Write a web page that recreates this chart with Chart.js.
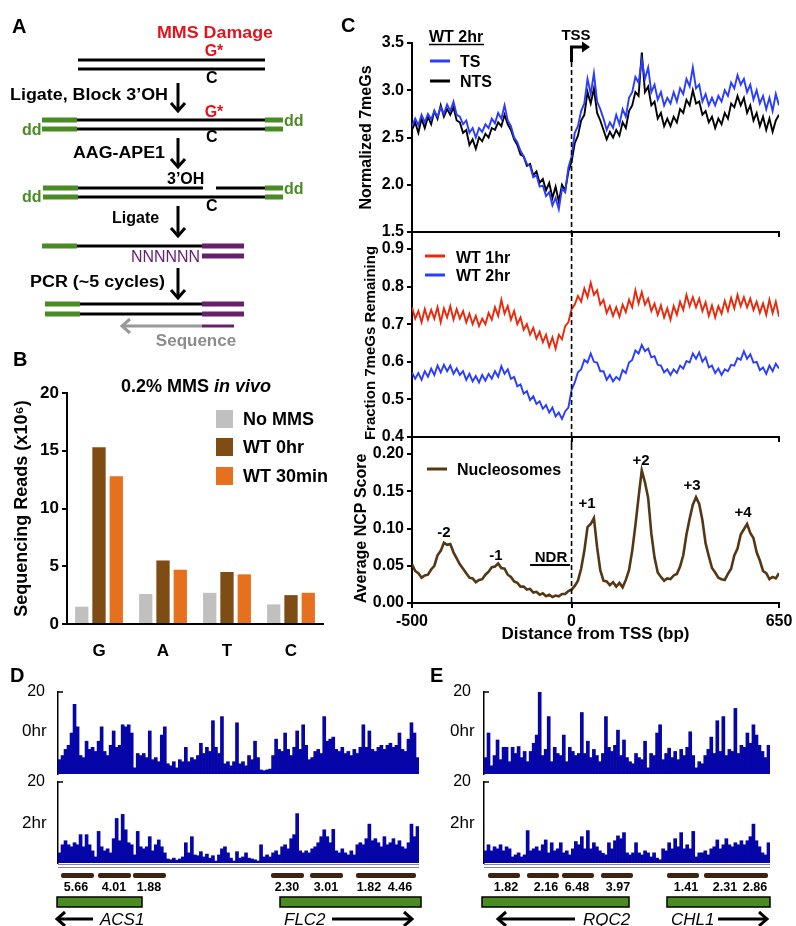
<!DOCTYPE html>
<html><head><meta charset="utf-8">
<script src="https://cdn.jsdelivr.net/npm/chart.js@4.4.1/dist/chart.umd.min.js"></script>
<style>
body{margin:0;background:#fff;}
#page{position:relative;width:796px;height:926px;overflow:hidden;background:#fff;}
canvas{position:absolute;}
#ov{position:absolute;left:0;top:0;pointer-events:none;z-index:5;}
</style></head>
<body><div id="page">
<canvas id="cB"></canvas>
<canvas id="cTop"></canvas>
<canvas id="cMid"></canvas>
<canvas id="cBot"></canvas>
<canvas id="cD0"></canvas>
<canvas id="cD2"></canvas>
<canvas id="cE0"></canvas>
<canvas id="cE2"></canvas>
<svg id="ov" width="796" height="926" font-family="'Liberation Sans', Arial, sans-serif" font-weight="bold">
<!-- panel letters -->
<text x="12" y="33" font-size="20">A</text>
<text x="13" y="366" font-size="20">B</text>
<text x="341" y="32" font-size="20">C</text>
<text x="10" y="682" font-size="20">D</text>
<text x="430" y="682" font-size="20">E</text>

<!-- Panel A schematic -->
<g fill="#e0141e">
<text x="215" y="38" font-size="17" text-anchor="middle" textLength="116" lengthAdjust="spacingAndGlyphs">MMS Damage</text>
<text x="214" y="56" font-size="16" text-anchor="middle">G*</text>
<text x="214" y="117" font-size="16" text-anchor="middle">G*</text>
</g>
<g font-size="16">
<text x="206" y="83">C</text>
<text x="206" y="142">C</text>
<text x="206" y="211">C</text>
<text x="10" y="100" textLength="158" lengthAdjust="spacingAndGlyphs">Ligate, Block 3’OH</text>
<text x="73" y="158" textLength="92" lengthAdjust="spacingAndGlyphs">AAG-APE1</text>
<text x="167" y="184">3’OH</text>
<text x="112" y="223">Ligate</text>
<text x="30" y="287" textLength="135" lengthAdjust="spacingAndGlyphs">PCR (~5 cycles)</text>
</g>
<g fill="#4a8c24" font-size="16">
<text x="22" y="135">dd</text>
<text x="284" y="126">dd</text>
<text x="22" y="202">dd</text>
<text x="284" y="194">dd</text>
</g>
<text x="131" y="262" font-size="16" font-weight="normal" fill="#66206e" textLength="69" lengthAdjust="spacingAndGlyphs">NNNNNN</text>
<text x="196" y="346" font-size="17" fill="#8c8c8c" text-anchor="middle">Sequence</text>
<g stroke="#000" stroke-width="3">
<line x1="78" y1="60" x2="265" y2="60"/><line x1="78" y1="69" x2="265" y2="69"/>
<line x1="77" y1="120" x2="265" y2="120"/><line x1="77" y1="129" x2="265" y2="129"/>
<line x1="78" y1="188" x2="203" y2="188"/><line x1="216" y1="188" x2="265" y2="188"/>
<line x1="78" y1="197" x2="265" y2="197"/>
<line x1="77" y1="246" x2="202" y2="246"/>
<line x1="80" y1="304" x2="202" y2="304"/><line x1="80" y1="314" x2="202" y2="314"/>
</g>
<g stroke="#4a8c24" stroke-width="5">
<line x1="42" y1="120" x2="77" y2="120"/><line x1="42" y1="129" x2="77" y2="129"/>
<line x1="265" y1="120" x2="283" y2="120"/><line x1="265" y1="129" x2="283" y2="129"/>
<line x1="43" y1="188" x2="78" y2="188"/><line x1="43" y1="197" x2="78" y2="197"/>
<line x1="265" y1="188" x2="283" y2="188"/><line x1="265" y1="197" x2="283" y2="197"/>
<line x1="42" y1="246" x2="77" y2="246"/>
<line x1="45" y1="304" x2="80" y2="304"/><line x1="45" y1="314" x2="80" y2="314"/>
</g>
<g stroke="#66206e" stroke-width="5">
<line x1="202" y1="246" x2="244" y2="246"/><line x1="202" y1="256" x2="244" y2="256"/>
<line x1="202" y1="304" x2="244" y2="304"/><line x1="202" y1="314" x2="244" y2="314"/>
<line x1="202" y1="326" x2="234" y2="326" stroke-width="3"/>
</g>
<g stroke="#999" stroke-width="3" fill="none">
<line x1="122" y1="326" x2="202" y2="326"/><polyline points="130,319 122,326 130,333"/>
</g>
<g stroke="#000" stroke-width="3" fill="none">
<line x1="178" y1="83" x2="178" y2="110"/><polyline points="171,103 178,111 185,103"/>
<line x1="178" y1="138" x2="178" y2="166"/><polyline points="171,159 178,167 185,159"/>
<line x1="178" y1="206" x2="178" y2="235"/><polyline points="171,228 178,236 185,228"/>
<line x1="178" y1="268" x2="178" y2="297"/><polyline points="171,290 178,298 185,290"/>
</g>

<!-- Panel B title + legend -->
<text x="196" y="392" font-size="18" text-anchor="middle">0.2% MMS <tspan font-style="italic">in vivo</tspan></text>
<rect x="216" y="410" width="17" height="18" fill="#c0c0c0"/>
<rect x="216" y="438" width="17" height="18" fill="#7f4c14"/>
<rect x="216" y="467" width="17" height="18" fill="#e6701e"/>
<g font-size="18">
<text x="243" y="425">No MMS</text>
<text x="243" y="453">WT 0hr</text>
<text x="243" y="482">WT 30min</text>
</g>

<!-- Panel C: shared y-axis line through gaps -->
<g stroke="#000" stroke-width="2">
<line x1="412" y1="231" x2="412" y2="250"/>
<line x1="412" y1="436" x2="412" y2="455"/>
</g>
<!-- Panel C legends and labels -->
<g font-size="16">
<text x="429" y="42">WT 2hr</text>
<line x1="429" y1="44.5" x2="484" y2="44.5" stroke="#000" stroke-width="1.5"/>
<line x1="430" y1="61" x2="450" y2="61" stroke="#2a3cff" stroke-width="3"/>
<text x="460" y="67">TS</text>
<line x1="430" y1="81" x2="450" y2="81" stroke="#000" stroke-width="3"/>
<text x="460" y="87">NTS</text>
<line x1="425" y1="256" x2="445" y2="256" stroke="#e8290b" stroke-width="3"/>
<text x="456" y="263">WT 1hr</text>
<line x1="425" y1="275" x2="445" y2="275" stroke="#2a3cff" stroke-width="3"/>
<text x="456" y="281">WT 2hr</text>
<line x1="427" y1="469" x2="447" y2="469" stroke="#553714" stroke-width="3"/>
<text x="457" y="475">Nucleosomes</text>
</g>
<text x="576" y="40" font-size="15" text-anchor="middle">TSS</text>
<polyline points="571.5,62 571.5,47 583,47" stroke="#000" stroke-width="3" fill="none"/>
<polygon points="582,41.5 590,47 582,52.5" fill="#000"/>
<g font-size="15" text-anchor="middle">
<text x="444" y="537">-2</text>
<text x="496" y="560">-1</text>
<text x="551" y="562">NDR</text>
<text x="587" y="508">+1</text>
<text x="641" y="465">+2</text>
<text x="692" y="490">+3</text>
<text x="743" y="517">+4</text>
</g>

<!-- Panels D/E labels -->
<g font-size="17" font-weight="normal">
<text x="22" y="736">0hr</text>
<text x="22" y="828">2hr</text>
<text x="450" y="736">0hr</text>
<text x="450" y="828">2hr</text>
</g>
<g stroke="#888" stroke-width="1.2">
<line x1="58" y1="864.5" x2="419" y2="864.5"/><line x1="58" y1="867.5" x2="419" y2="867.5"/>
<line x1="484" y1="864.5" x2="770" y2="864.5"/><line x1="484" y1="867.5" x2="770" y2="867.5"/>
</g>
<g fill="#3d2410">
<rect x="61" y="873" width="33" height="5" rx="2"/><rect x="98" y="873" width="33" height="5" rx="2"/><rect x="133" y="873" width="33" height="5" rx="2"/>
<rect x="271" y="873" width="33" height="5" rx="2"/><rect x="310" y="873" width="33" height="5" rx="2"/><rect x="356" y="873" width="60" height="5" rx="2"/>
<rect x="488" y="873" width="32" height="5" rx="2"/><rect x="527" y="873" width="32" height="5" rx="2"/><rect x="562" y="873" width="32" height="5" rx="2"/><rect x="601" y="873" width="32" height="5" rx="2"/>
<rect x="667" y="873" width="32" height="5" rx="2"/><rect x="704" y="873" width="64" height="5" rx="2"/>
</g>
<g font-size="12.5" text-anchor="middle">
<text x="76" y="891">5.66</text><text x="114" y="891">4.01</text><text x="149" y="891">1.88</text>
<text x="287" y="891">2.30</text><text x="326" y="891">3.01</text><text x="369" y="891">1.82</text><text x="400" y="891">4.46</text>
<text x="506" y="891">1.82</text><text x="546" y="891">2.16</text><text x="577" y="891">6.48</text><text x="618" y="891">3.97</text>
<text x="686" y="891">1.41</text><text x="725" y="891">2.31</text><text x="755" y="891">2.86</text>
</g>
<g fill="#4b8c22" stroke="#000" stroke-width="1.5">
<rect x="57" y="897" width="85" height="10"/><rect x="280" y="897" width="141" height="10"/>
<rect x="482" y="897" width="147" height="10"/><rect x="667" y="897" width="103" height="10"/>
</g>
<g font-size="17" font-weight="normal" font-style="italic">
<text x="100" y="925">ACS1</text><text x="284" y="925">FLC2</text>
<text x="583" y="925">RQC2</text><text x="671" y="925">CHL1</text>
</g>
<g stroke="#000" stroke-width="3" fill="none">
<line x1="57" y1="919" x2="93" y2="919"/><polyline points="65,912 57,919 65,926"/>
<line x1="332" y1="919" x2="412" y2="919"/><polyline points="404,912 412,919 404,926"/>
<line x1="498" y1="919" x2="575" y2="919"/><polyline points="506,912 498,919 506,926"/>
<line x1="718" y1="919" x2="767" y2="919"/><polyline points="759,912 767,919 759,926"/>
</g>
</svg>
</div>
<script>
// ---------- DATA ----------
// Panel B
const baseCats = ['G','A','T','C'];
const noMMS  = [1.5, 2.6, 2.7, 1.7];
const wt0hr  = [15.3, 5.5, 4.5, 2.5];
const wt30min= [12.8, 4.7, 4.3, 2.7];
const bTicks = [0,5,10,15,20];

// Panel C (sampled every 10 bp from -500 to 650)
const bp = Array.from({length:116}, (_, i) => -500 + i*10);
const cTicks = [-500, 0, 650];
const tsVals = [2.62,2.70,2.63,2.74,2.66,2.75,2.69,2.78,2.72,2.82,
 2.75,2.85,2.78,2.88,2.74,2.72,2.64,2.68,2.55,2.60,
 2.50,2.60,2.56,2.64,2.60,2.70,2.65,2.76,2.70,2.84,
 2.68,2.62,2.50,2.45,2.36,2.30,2.22,2.20,2.08,2.10,
 1.98,1.99,1.88,1.92,1.78,1.86,1.74,1.96,1.92,2.18,
 2.30,2.55,2.62,2.78,2.86,3.12,2.96,3.18,2.88,2.80,
 2.70,2.58,2.66,2.60,2.74,2.64,2.80,2.72,2.92,2.98,
 3.14,3.08,3.32,3.12,3.24,2.98,3.06,2.90,2.98,2.84,
 2.92,2.86,2.98,2.88,3.02,2.96,3.12,3.04,3.24,3.02,
 3.06,2.88,2.96,2.84,2.92,2.84,2.94,2.88,3.00,2.94,
 3.08,3.02,3.16,3.06,3.12,2.98,3.06,2.90,3.00,2.86,
 2.94,2.80,2.92,2.78,2.96,2.84];
const ntsVals = [2.58,2.66,2.55,2.70,2.60,2.72,2.64,2.78,2.70,2.84,
 2.72,2.80,2.74,2.82,2.68,2.66,2.55,2.58,2.42,2.48,
 2.38,2.50,2.46,2.54,2.50,2.60,2.58,2.66,2.62,2.74,
 2.64,2.58,2.48,2.42,2.32,2.30,2.20,2.22,2.10,2.14,
 2.02,2.06,1.94,2.02,1.86,1.98,1.82,2.00,1.94,2.14,
 2.24,2.44,2.52,2.68,2.74,2.98,2.86,3.02,2.76,2.68,
 2.58,2.48,2.56,2.50,2.58,2.52,2.66,2.60,2.78,2.84,
 2.98,2.94,3.40,2.98,3.04,2.84,2.88,2.70,2.76,2.62,
 2.70,2.62,2.72,2.66,2.80,2.76,2.90,2.84,3.00,2.86,
 2.88,2.74,2.78,2.66,2.72,2.60,2.70,2.64,2.76,2.70,
 2.86,2.82,2.94,2.84,2.92,2.76,2.84,2.68,2.76,2.62,
 2.72,2.58,2.70,2.56,2.68,2.74];
const wt1Vals = [0.745,0.715,0.735,0.705,0.740,0.712,0.738,0.715,0.745,0.705,
 0.742,0.718,0.748,0.712,0.740,0.715,0.735,0.705,0.728,0.700,
 0.722,0.695,0.715,0.700,0.730,0.712,0.745,0.722,0.765,0.728,
 0.748,0.712,0.735,0.700,0.718,0.685,0.700,0.672,0.690,0.662,
 0.680,0.652,0.672,0.640,0.665,0.635,0.672,0.660,0.695,0.705,
 0.740,0.752,0.775,0.760,0.795,0.772,0.810,0.778,0.790,0.752,
 0.765,0.730,0.748,0.722,0.745,0.720,0.752,0.732,0.765,0.745,
 0.790,0.755,0.785,0.752,0.768,0.735,0.755,0.725,0.750,0.718,
 0.742,0.712,0.748,0.725,0.760,0.738,0.778,0.748,0.772,0.745,
 0.768,0.735,0.758,0.722,0.750,0.718,0.748,0.728,0.762,0.735,
 0.770,0.742,0.778,0.748,0.772,0.745,0.768,0.738,0.760,0.730,
 0.755,0.725,0.765,0.730,0.760,0.720];
const wt2Vals = [0.572,0.555,0.570,0.552,0.575,0.560,0.582,0.565,0.590,0.572,
 0.592,0.575,0.590,0.568,0.582,0.565,0.575,0.552,0.568,0.548,
 0.562,0.545,0.565,0.550,0.568,0.555,0.575,0.560,0.588,0.568,
 0.580,0.555,0.560,0.535,0.540,0.515,0.522,0.498,0.508,0.488,
 0.495,0.475,0.485,0.465,0.478,0.455,0.465,0.448,0.468,0.478,
 0.525,0.545,0.572,0.580,0.605,0.598,0.622,0.600,0.598,0.575,
 0.575,0.552,0.565,0.548,0.560,0.552,0.578,0.570,0.598,0.605,
 0.630,0.622,0.645,0.628,0.635,0.612,0.615,0.592,0.590,0.572,
 0.580,0.565,0.580,0.570,0.590,0.582,0.602,0.598,0.622,0.608,
 0.625,0.600,0.612,0.585,0.590,0.570,0.582,0.565,0.580,0.575,
 0.592,0.590,0.610,0.605,0.628,0.608,0.620,0.598,0.600,0.578,
 0.585,0.568,0.590,0.575,0.595,0.582];
const nucVals = [0.052,0.043,0.040,0.034,0.037,0.038,0.045,0.050,0.064,0.070,
 0.081,0.078,0.079,0.068,0.060,0.052,0.046,0.040,0.034,0.033,
 0.028,0.031,0.032,0.038,0.042,0.048,0.049,0.053,0.047,0.046,
 0.038,0.035,0.029,0.027,0.022,0.022,0.018,0.019,0.014,0.015,
 0.011,0.013,0.009,0.011,0.008,0.010,0.009,0.012,0.012,0.016,
 0.018,0.023,0.030,0.046,0.070,0.102,0.106,0.114,0.075,0.044,
 0.030,0.029,0.024,0.028,0.022,0.027,0.021,0.031,0.044,0.070,
 0.104,0.142,0.178,0.162,0.141,0.093,0.061,0.041,0.035,0.030,
 0.033,0.032,0.037,0.039,0.049,0.064,0.092,0.113,0.132,0.142,
 0.133,0.111,0.080,0.063,0.047,0.041,0.034,0.032,0.031,0.039,
 0.046,0.064,0.073,0.092,0.099,0.106,0.094,0.087,0.068,0.057,
 0.043,0.040,0.032,0.035,0.033,0.040];

// Panels D/E: read counts per bin (0-20 scale)
const d0hr = [3.5,4.5,6,7,10,17,11.5,4.5,4,8,
 6,6.5,5.5,8,11.5,5.5,4.5,7,10.5,6.5,
 7,12,11.5,12,10,1.5,5,4.5,5,4,
 10.5,3.5,4,3,9.5,11.5,2.5,2,3,1.5,
 3.5,3,6.5,3,4,3.5,4.5,7.5,5,6.5,
 5.5,13,6.5,5,14,2.5,3,2,3,12.5,
 2.5,3,2,4.5,3.5,8,4,1,0.8,1,
 1.2,4.5,8.5,6,5.5,10,6,4.5,6.5,10.5,
 6,12,7,3.5,4,5.5,6,5,14,8,
 8.5,9,6,5.5,6.5,5,5.5,4.5,6,5,
 6.5,12,6.5,10.5,6,5.5,6.5,7,6,7,
 7.5,6.5,7,10,6,5.5,8.5,12.5,10,4];
const d2hr = [2.5,4.5,5.5,4.5,4,5,4.5,7,4,7,
 4.5,3,1.5,7.8,4,3,3.5,2.5,6,11,
 5.5,12,8.2,5,4.5,2,7.8,4,3.5,4,
 6.5,3,4.5,5.7,4,2.5,1,0.8,1.2,0.7,
 1,1.5,5,2.5,6.5,2,1.8,2.8,1.5,2.2,
 1.2,1.8,0.5,2,3.5,4,2.5,1.2,0.5,2.8,
 1.2,1.5,2.5,1.2,1,0.8,0.5,4.5,1.5,2,
 1.5,2.5,3,2,4,4.5,3.5,6,7,12.2,
 3,2.5,3,2.5,3.5,4,5,6.5,8.2,6.5,
 5,8.3,3,2.5,3.5,2.5,2,3,2,4.5,
 5,4.5,6,9.6,5.5,6,5,4,6.5,4.5,
 5,6,4.5,5.5,4,3.5,5,9.6,6.5,9];
const e0hr = [4,10,2,4.5,8.3,3.5,6.5,6.5,3,6.5,
 5,6.7,4,5.5,3,5.5,7.5,9.5,20,4.5,
 6,14,3,6.5,5,4.5,9.5,3,6.5,5.5,
 4.5,5,15,5,8,4,6,4.5,3,5,
 14,6.5,5.5,7,10.7,4.5,8.3,4,3,2.5,
 5,4,3.5,8,1.5,5,4.5,10,12,3.5,
 5,6.3,4,5.5,3.5,6,4.5,6.5,10.3,4.5,
 1.5,3,2.5,4.5,6,9,5,13,5.5,14,
 4.5,6,5.5,16,5,7,6.5,10,7.5,12,
 9.5,7,5.5,4,7];
const e2hr = [3,4.5,3,4,3.5,4.5,3,4,3.5,1.5,
 2,2.5,1.5,2,8,3,3.5,4,3,4.5,
 5.7,2.5,5,3,3.5,5,2.5,3,2,3.5,
 5.3,4.5,6.5,3.5,8,3.5,5,4,3,2.4,
 2,5,3.5,5.5,6.7,6,7.5,2.5,2,2.5,
 5,2.5,2,3,2.5,1.5,2.5,1.2,0.8,3.5,
 3,5,3.5,6,4,7.5,3.5,4.5,3.5,7.8,
 1.5,2.5,2.5,3,2,3.5,4,5.7,3.5,4.5,
 6,4.5,4,5,4.5,5.5,4.5,5.5,6.5,9.6,
 5.5,4,2.5,2,5];

// ---------- CHARTS ----------
Chart.defaults.font.family = "'Liberation Sans', Arial, sans-serif";
Chart.defaults.font.weight = 'bold';
Chart.defaults.color = '#000';
Chart.defaults.animation = false;
Chart.defaults.plugins.legend.display = false;
Chart.defaults.plugins.tooltip.enabled = false;

function mk(id, box, area, xH, cfg){
  const c = document.getElementById(id);
  c.style.left = box.x + 'px'; c.style.top = box.y + 'px';
  c.width = box.w; c.height = box.h;
  c.style.width = box.w + 'px'; c.style.height = box.h + 'px';
  const o = cfg.options;
  o.responsive = false; o.maintainAspectRatio = false; o.devicePixelRatio = 1;
  o.layout = {padding:{left:0, top: area.t - box.y, right: box.x + box.w - area.r, bottom: box.y + box.h - area.b - xH}};
  const yW = area.l - box.x;
  o.scales.x.afterFit = s => { s.height = xH; s.paddingLeft = 0; s.paddingRight = 0; };
  o.scales.y.afterFit = s => { s.width = yW; s.paddingTop = 0; s.paddingBottom = 0; };
  return new Chart(c, cfg);
}
const pts = vals => vals.map((v, i) => ({x: bp[i], y: v}));
const axisLine = {color:'#000', width:2};
const tickGrid = {drawOnChartArea:false, drawTicks:true, tickLength:5, color:'#000', lineWidth:2};

// dashed TSS line plugin
const dashPlugin = {
  id:'dash',
  afterDatasetsDraw(chart, args, opts){
    const x = chart.scales.x.getPixelForValue(0);
    const ctx = chart.ctx;
    ctx.save(); ctx.strokeStyle = '#000'; ctx.lineWidth = 1.6; ctx.setLineDash([5,3]);
    ctx.beginPath(); ctx.moveTo(x, opts.from);
    ctx.lineTo(x, opts.toArea ? chart.chartArea.bottom : chart.height); ctx.stroke();
    ctx.restore();
  }
};

// Panel B
mk('cB', {x:0, y:370, w:350, h:290}, {l:67, r:323, t:393, b:624}, 36, {
  type:'bar',
  data:{labels: baseCats, datasets:[
    {label:'No MMS', data:noMMS, backgroundColor:'#c0c0c0'},
    {label:'WT 0hr', data:wt0hr, backgroundColor:'#7f4c14'},
    {label:'WT 30min', data:wt30min, backgroundColor:'#e6701e'}
  ]},
  options:{
    datasets:{bar:{categoryPercentage:0.81, barPercentage:0.77, borderWidth:0}},
    scales:{
      x:{grid:{display:false}, border:axisLine, ticks:{font:{size:17}, padding:9}},
      y:{min:0, max:20, afterBuildTicks: s => { s.ticks = bTicks.map(v => ({value:v})); },
         grid:tickGrid, border:axisLine, ticks:{font:{size:17}, padding:3},
         title:{display:true, text:'Sequencing Reads (x10⁶)', font:{size:18}, padding:{top:11}}}
    }
  }
});

function cXAxis(showLabels){
  return {type:'linear', min:-500, max:650,
    afterBuildTicks: s => { s.ticks = cTicks.map(v => ({value:v})); },
    grid:tickGrid, border:axisLine,
    ticks:{display:showLabels, font:{size:16}, padding:4}};
}

// Panel C top
mk('cTop', {x:350, y:25, w:446, h:215}, {l:412, r:779, t:43, b:232}, 8, {
  type:'line',
  data:{datasets:[
    {label:'TS', data:pts(tsVals), borderColor:'#2a3cff', borderWidth:1.9, pointRadius:0, tension:0},
    {label:'NTS', data:pts(ntsVals), borderColor:'#000', borderWidth:1.9, pointRadius:0, tension:0}
  ]},
  options:{
    plugins:{dash:{from:37, toArea:false}},
    scales:{
      x:cXAxis(false),
      y:{min:1.5, max:3.5, ticks:{stepSize:0.5, font:{size:16}, padding:3, callback:v => v.toFixed(1)},
         grid:tickGrid, border:axisLine,
         title:{display:true, text:'Normalized 7meGs', font:{size:16}, padding:{top:7}}}
    }
  },
  plugins:[dashPlugin]
});

// Panel C middle
mk('cMid', {x:350, y:240, w:446, h:205}, {l:412, r:779, t:249, b:437}, 8, {
  type:'line',
  data:{datasets:[
    {label:'WT 1hr', data:pts(wt1Vals), borderColor:'#e8290b', borderWidth:1.9, pointRadius:0, tension:0},
    {label:'WT 2hr', data:pts(wt2Vals), borderColor:'#2a3cff', borderWidth:1.9, pointRadius:0, tension:0}
  ]},
  options:{
    plugins:{dash:{from:0, toArea:false}},
    scales:{
      x:cXAxis(false),
      y:{min:0.4, max:0.9, ticks:{stepSize:0.1, font:{size:16}, padding:3, callback:v => v.toFixed(1)},
         grid:tickGrid, border:axisLine,
         title:{display:true, text:'Fraction 7meGs Remaining', font:{size:15}, padding:{top:12}}}
    }
  },
  plugins:[dashPlugin]
});

// Panel C bottom
mk('cBot', {x:350, y:445, w:446, h:200}, {l:412, r:779, t:454, b:603}, 42, {
  type:'line',
  data:{datasets:[
    {label:'Nucleosomes', data:pts(nucVals), borderColor:'#553714', borderWidth:2.6, pointRadius:0, tension:0}
  ]},
  options:{
    plugins:{dash:{from:0, toArea:true}},
    scales:{
      x:Object.assign(cXAxis(true), {title:{display:true, text:'Distance from TSS (bp)', font:{size:17}, padding:{top:0, bottom:0}}}),
      y:{min:0, max:0.2, ticks:{stepSize:0.05, font:{size:16}, padding:3, callback:v => v.toFixed(2)},
         grid:tickGrid, border:axisLine,
         title:{display:true, text:'Average NCP Score', font:{size:16}, padding:{top:2}}}
    }
  },
  plugins:[dashPlugin, {
    id:'ndr',
    afterDatasetsDraw(chart){
      const {x, y} = chart.scales; const ctx = chart.ctx;
      ctx.save(); ctx.strokeStyle = '#000'; ctx.lineWidth = 2;
      ctx.beginPath(); ctx.moveTo(x.getPixelForValue(-130), y.getPixelForValue(0.051));
      ctx.lineTo(x.getPixelForValue(-5), y.getPixelForValue(0.051)); ctx.stroke(); ctx.restore();
    }
  }]
});

// Panels D/E
const topTick = {
  id:'topTick',
  afterDraw(chart){
    const a = chart.chartArea, ctx = chart.ctx;
    ctx.save(); ctx.strokeStyle = '#000'; ctx.lineWidth = 1.5;
    ctx.beginPath(); ctx.moveTo(a.left, a.top); ctx.lineTo(a.left + 5, a.top); ctx.stroke(); ctx.restore();
  }
};
function trackChart(id, box, area, vals){
  return mk(id, box, area, 0, {
    type:'bar',
    data:{labels: vals.map((_, i) => i), datasets:[{data: vals, backgroundColor:'#0505a8', borderWidth:0,
      categoryPercentage:1, barPercentage:1}]},
    options:{
      scales:{
        x:{display:false},
        y:{min:0, max:20, afterBuildTicks: s => { s.ticks = [{value:20}]; },
           grid:{display:false}, border:{color:'#000', width:1.5},
           ticks:{font:{size:16, weight:'normal'}, padding:5}}
      }
    },
    plugins:[topTick]
  });
}
trackChart('cD0', {x:0, y:676, w:430, h:100}, {l:58, r:419, t:692, b:774}, d0hr);
trackChart('cD2', {x:0, y:770, w:430, h:96}, {l:58, r:419, t:782, b:863}, d2hr);
trackChart('cE0', {x:430, y:676, w:366, h:100}, {l:484, r:770, t:692, b:774}, e0hr);
trackChart('cE2', {x:430, y:770, w:366, h:96}, {l:484, r:770, t:782, b:863}, e2hr);
</script>
</body></html>
